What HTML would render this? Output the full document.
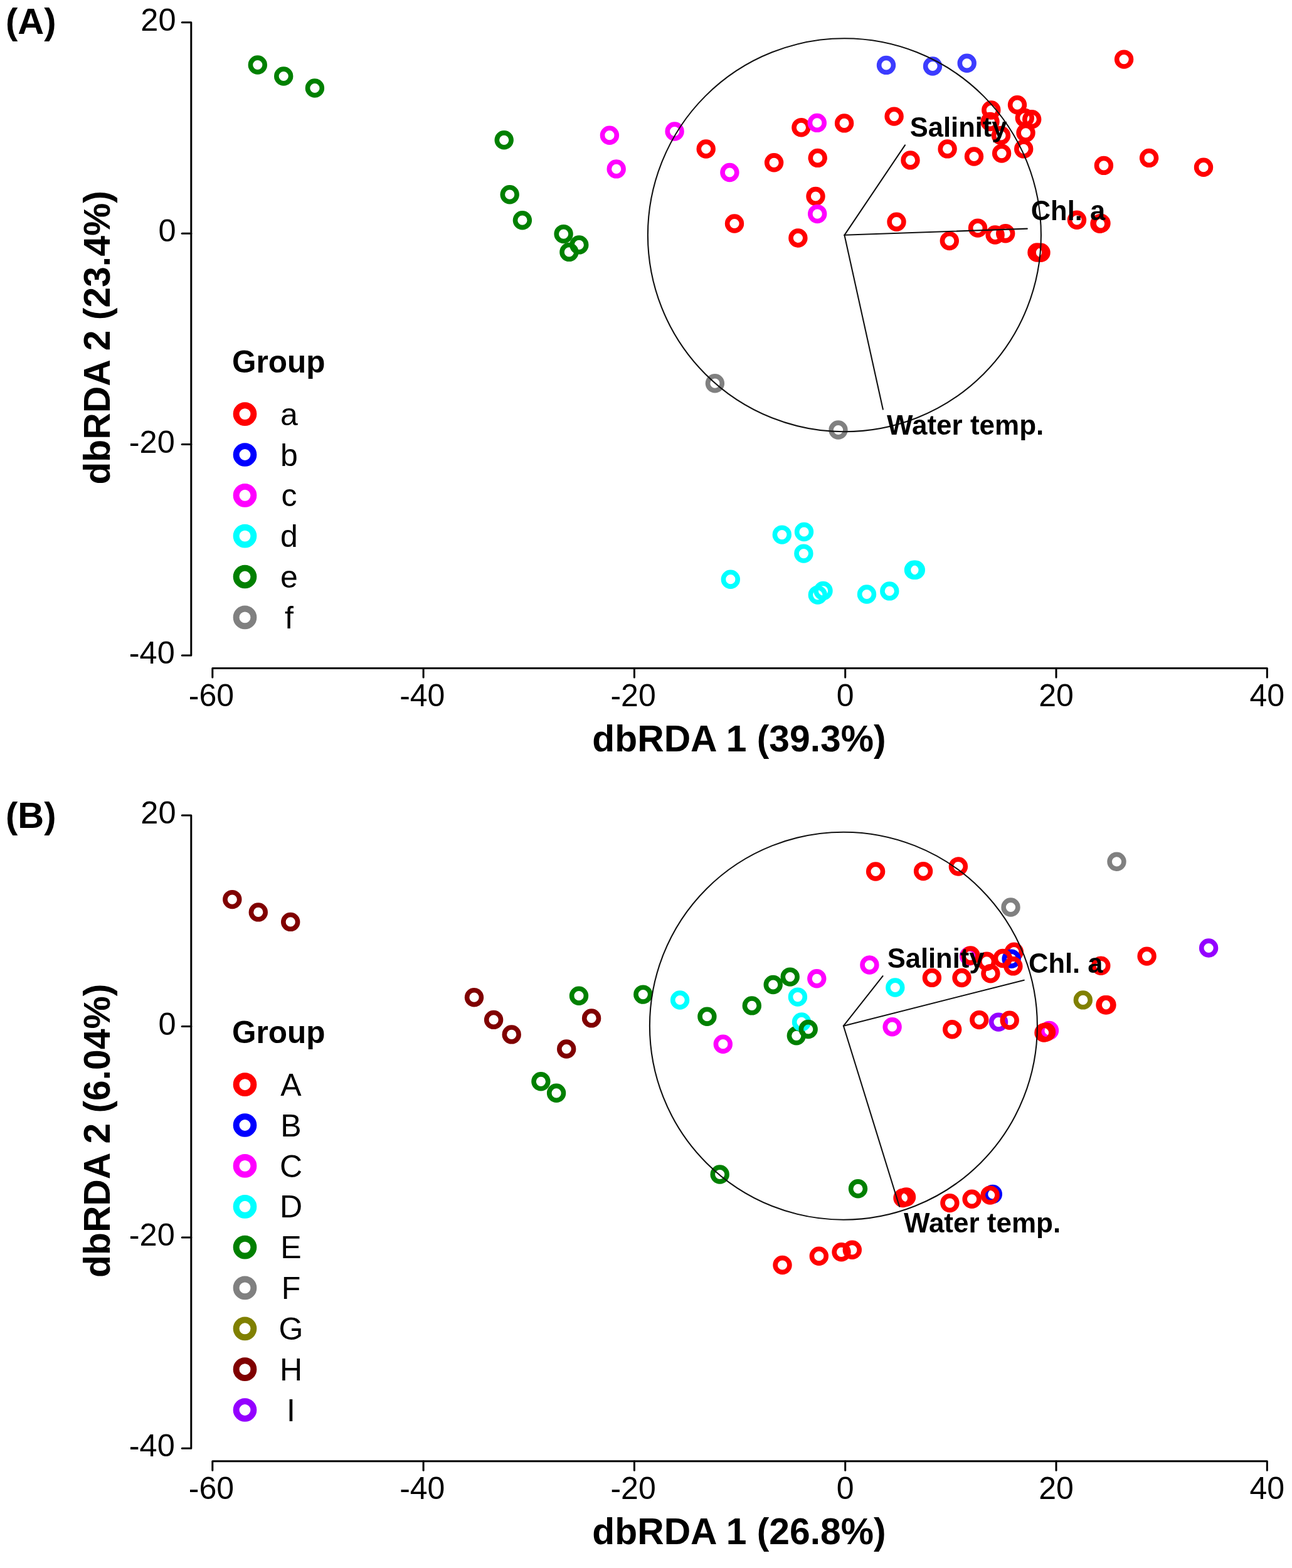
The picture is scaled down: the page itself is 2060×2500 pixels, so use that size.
<!DOCTYPE html>
<html><head><meta charset="utf-8"><title>dbRDA plots</title>
<style>html,body{margin:0;padding:0;background:#fff;} svg{display:block;}</style></head>
<body>
<svg width="2060" height="2500" viewBox="0 0 2060 2500">
<rect width="2060" height="2500" fill="#fff"/>
<circle cx="1125.7" cy="237.5" r="11.4" stroke="#ff0000" stroke-width="7.6" fill="none"/>
<circle cx="1277.4" cy="203.3" r="11.4" stroke="#ff0000" stroke-width="7.6" fill="none"/>
<circle cx="1346.1" cy="196.4" r="11.4" stroke="#ff0000" stroke-width="7.6" fill="none"/>
<circle cx="1425.6" cy="185.6" r="11.4" stroke="#ff0000" stroke-width="7.6" fill="none"/>
<circle cx="1234.1" cy="259.3" r="11.4" stroke="#ff0000" stroke-width="7.6" fill="none"/>
<circle cx="1303.7" cy="251.9" r="11.4" stroke="#ff0000" stroke-width="7.6" fill="none"/>
<circle cx="1451.5" cy="255.4" r="11.4" stroke="#ff0000" stroke-width="7.6" fill="none"/>
<circle cx="1792.1" cy="94.6" r="11.4" stroke="#ff0000" stroke-width="7.6" fill="none"/>
<circle cx="1622.0" cy="167.2" r="11.4" stroke="#ff0000" stroke-width="7.6" fill="none"/>
<circle cx="1580.3" cy="175.5" r="11.4" stroke="#ff0000" stroke-width="7.6" fill="none"/>
<circle cx="1578.5" cy="194.0" r="11.4" stroke="#ff0000" stroke-width="7.6" fill="none"/>
<circle cx="1633.8" cy="187.9" r="11.4" stroke="#ff0000" stroke-width="7.6" fill="none"/>
<circle cx="1645.2" cy="190.2" r="11.4" stroke="#ff0000" stroke-width="7.6" fill="none"/>
<circle cx="1635.5" cy="211.8" r="11.4" stroke="#ff0000" stroke-width="7.6" fill="none"/>
<circle cx="1596.0" cy="216.0" r="11.4" stroke="#ff0000" stroke-width="7.6" fill="none"/>
<circle cx="1632.2" cy="237.4" r="11.4" stroke="#ff0000" stroke-width="7.6" fill="none"/>
<circle cx="1597.1" cy="244.6" r="11.4" stroke="#ff0000" stroke-width="7.6" fill="none"/>
<circle cx="1510.6" cy="237.4" r="11.4" stroke="#ff0000" stroke-width="7.6" fill="none"/>
<circle cx="1553.0" cy="249.5" r="11.4" stroke="#ff0000" stroke-width="7.6" fill="none"/>
<circle cx="1759.9" cy="263.9" r="11.4" stroke="#ff0000" stroke-width="7.6" fill="none"/>
<circle cx="1832.1" cy="251.9" r="11.4" stroke="#ff0000" stroke-width="7.6" fill="none"/>
<circle cx="1919.0" cy="266.7" r="11.4" stroke="#ff0000" stroke-width="7.6" fill="none"/>
<circle cx="1300.5" cy="313.0" r="11.4" stroke="#ff0000" stroke-width="7.6" fill="none"/>
<circle cx="1171.0" cy="356.5" r="11.4" stroke="#ff0000" stroke-width="7.6" fill="none"/>
<circle cx="1272.4" cy="379.5" r="11.4" stroke="#ff0000" stroke-width="7.6" fill="none"/>
<circle cx="1429.5" cy="353.7" r="11.4" stroke="#ff0000" stroke-width="7.6" fill="none"/>
<circle cx="1513.8" cy="384.1" r="11.4" stroke="#ff0000" stroke-width="7.6" fill="none"/>
<circle cx="1559.0" cy="363.6" r="11.4" stroke="#ff0000" stroke-width="7.6" fill="none"/>
<circle cx="1586.6" cy="374.5" r="11.4" stroke="#ff0000" stroke-width="7.6" fill="none"/>
<circle cx="1603.2" cy="372.2" r="11.4" stroke="#ff0000" stroke-width="7.6" fill="none"/>
<circle cx="1653.5" cy="402.5" r="11.4" stroke="#ff0000" stroke-width="7.6" fill="none"/>
<circle cx="1659.5" cy="402.7" r="11.4" stroke="#ff0000" stroke-width="7.6" fill="none"/>
<circle cx="1717.0" cy="350.8" r="11.4" stroke="#ff0000" stroke-width="7.6" fill="none"/>
<circle cx="1753.5" cy="356.8" r="11.4" stroke="#ff0000" stroke-width="7.6" fill="none"/>
<circle cx="1755.5" cy="356.0" r="11.4" stroke="#ff0000" stroke-width="7.6" fill="none"/>
<circle cx="1413.0" cy="103.9" r="11.4" stroke="#3c3cff" stroke-width="7.6" fill="none"/>
<circle cx="1487.0" cy="105.5" r="11.4" stroke="#3c3cff" stroke-width="7.6" fill="none"/>
<circle cx="1541.7" cy="100.8" r="11.4" stroke="#3c3cff" stroke-width="7.6" fill="none"/>
<circle cx="971.9" cy="215.7" r="11.4" stroke="#ff00ff" stroke-width="7.6" fill="none"/>
<circle cx="982.7" cy="269.4" r="11.4" stroke="#ff00ff" stroke-width="7.6" fill="none"/>
<circle cx="1075.6" cy="209.5" r="11.4" stroke="#ff00ff" stroke-width="7.6" fill="none"/>
<circle cx="1163.4" cy="275.0" r="11.4" stroke="#ff00ff" stroke-width="7.6" fill="none"/>
<circle cx="1302.8" cy="195.9" r="11.4" stroke="#ff00ff" stroke-width="7.6" fill="none"/>
<circle cx="1303.2" cy="341.1" r="11.4" stroke="#ff00ff" stroke-width="7.6" fill="none"/>
<circle cx="1246.8" cy="852.6" r="11.4" stroke="#00ffff" stroke-width="7.6" fill="none"/>
<circle cx="1282.0" cy="848.0" r="11.4" stroke="#00ffff" stroke-width="7.6" fill="none"/>
<circle cx="1281.4" cy="882.6" r="11.4" stroke="#00ffff" stroke-width="7.6" fill="none"/>
<circle cx="1164.8" cy="923.7" r="11.4" stroke="#00ffff" stroke-width="7.6" fill="none"/>
<circle cx="1303.8" cy="948.6" r="11.4" stroke="#00ffff" stroke-width="7.6" fill="none"/>
<circle cx="1312.5" cy="941.9" r="11.4" stroke="#00ffff" stroke-width="7.6" fill="none"/>
<circle cx="1382.0" cy="947.5" r="11.4" stroke="#00ffff" stroke-width="7.6" fill="none"/>
<circle cx="1418.3" cy="942.4" r="11.4" stroke="#00ffff" stroke-width="7.6" fill="none"/>
<circle cx="1457.0" cy="908.8" r="11.4" stroke="#00ffff" stroke-width="7.6" fill="none"/>
<circle cx="1459.8" cy="908.8" r="11.4" stroke="#00ffff" stroke-width="7.6" fill="none"/>
<circle cx="410.8" cy="103.5" r="11.4" stroke="#008000" stroke-width="7.6" fill="none"/>
<circle cx="452.2" cy="121.5" r="11.4" stroke="#008000" stroke-width="7.6" fill="none"/>
<circle cx="501.9" cy="140.5" r="11.4" stroke="#008000" stroke-width="7.6" fill="none"/>
<circle cx="803.7" cy="223.3" r="11.4" stroke="#008000" stroke-width="7.6" fill="none"/>
<circle cx="812.7" cy="310.2" r="11.4" stroke="#008000" stroke-width="7.6" fill="none"/>
<circle cx="832.9" cy="351.2" r="11.4" stroke="#008000" stroke-width="7.6" fill="none"/>
<circle cx="898.6" cy="373.1" r="11.4" stroke="#008000" stroke-width="7.6" fill="none"/>
<circle cx="923.3" cy="390.4" r="11.4" stroke="#008000" stroke-width="7.6" fill="none"/>
<circle cx="907.4" cy="401.9" r="11.4" stroke="#008000" stroke-width="7.6" fill="none"/>
<circle cx="1139.9" cy="611.2" r="11.4" stroke="#808080" stroke-width="7.6" fill="none"/>
<circle cx="1336.5" cy="685.5" r="11.4" stroke="#808080" stroke-width="7.6" fill="none"/>
<circle cx="1346.4" cy="374.8" r="313.5" fill="none" stroke="#111" stroke-width="2.1"/>
<line x1="1346.4" y1="374.8" x2="1443.0" y2="231.3" stroke="#111" stroke-width="2.1" stroke-linecap="round"/>
<line x1="1346.4" y1="374.8" x2="1637.8" y2="364.6" stroke="#111" stroke-width="2.1" stroke-linecap="round"/>
<line x1="1346.4" y1="374.8" x2="1407.8" y2="652.6" stroke="#111" stroke-width="2.1" stroke-linecap="round"/>
<text x="1450.8" y="217.6" font-size="43.5" font-weight="bold" font-family="'Liberation Sans', Arial, Helvetica, sans-serif">Salinity</text>
<text x="1643.7" y="351.3" font-size="43.5" font-weight="bold" font-family="'Liberation Sans', Arial, Helvetica, sans-serif">Chl. a</text>
<text x="1414.1" y="693.1" font-size="44" font-weight="bold" font-family="'Liberation Sans', Arial, Helvetica, sans-serif">Water temp.</text>
<path d="M290.2,35.7 H304.8 V1044.9 H290.2" fill="none" stroke="#000" stroke-width="3" stroke-linejoin="round" stroke-linecap="round"/>
<line x1="290.2" y1="372.2" x2="304.8" y2="372.2" stroke="#000" stroke-width="3" stroke-linecap="round"/>
<line x1="290.2" y1="708.5" x2="304.8" y2="708.5" stroke="#000" stroke-width="3" stroke-linecap="round"/>
<text x="280.5" y="48.7" text-anchor="end" font-size="50.5" font-family="'Liberation Sans', Arial, Helvetica, sans-serif">20</text>
<text x="280.5" y="385.2" text-anchor="end" font-size="50.5" font-family="'Liberation Sans', Arial, Helvetica, sans-serif">0</text>
<text x="278.8" y="721.5" text-anchor="end" font-size="50.5" font-family="'Liberation Sans', Arial, Helvetica, sans-serif">-20</text>
<text x="278.8" y="1057.9" text-anchor="end" font-size="50.5" font-family="'Liberation Sans', Arial, Helvetica, sans-serif">-40</text>
<path d="M338.8,1079.9 V1065.4 H2020.3 V1079.9" fill="none" stroke="#000" stroke-width="3" stroke-linejoin="round" stroke-linecap="round"/>
<line x1="675.1" y1="1065.4" x2="675.1" y2="1079.9" stroke="#000" stroke-width="3" stroke-linecap="round"/>
<line x1="1011.4" y1="1065.4" x2="1011.4" y2="1079.9" stroke="#000" stroke-width="3" stroke-linecap="round"/>
<line x1="1347.7" y1="1065.4" x2="1347.7" y2="1079.9" stroke="#000" stroke-width="3" stroke-linecap="round"/>
<line x1="1684.0" y1="1065.4" x2="1684.0" y2="1079.9" stroke="#000" stroke-width="3" stroke-linecap="round"/>
<text x="337.0" y="1125.9" text-anchor="middle" font-size="50" font-family="'Liberation Sans', Arial, Helvetica, sans-serif">-60</text>
<text x="673.3" y="1125.9" text-anchor="middle" font-size="50" font-family="'Liberation Sans', Arial, Helvetica, sans-serif">-40</text>
<text x="1009.6" y="1125.9" text-anchor="middle" font-size="50" font-family="'Liberation Sans', Arial, Helvetica, sans-serif">-20</text>
<text x="1347.7" y="1125.9" text-anchor="middle" font-size="50" font-family="'Liberation Sans', Arial, Helvetica, sans-serif">0</text>
<text x="1684.0" y="1125.9" text-anchor="middle" font-size="50" font-family="'Liberation Sans', Arial, Helvetica, sans-serif">20</text>
<text x="2020.3" y="1125.9" text-anchor="middle" font-size="50" font-family="'Liberation Sans', Arial, Helvetica, sans-serif">40</text>
<text x="1178.5" y="1197.9" text-anchor="middle" font-size="58.8" font-weight="bold" font-family="'Liberation Sans', Arial, Helvetica, sans-serif">dbRDA 1 (39.3%)</text>
<text transform="translate(175,538.4) rotate(-90)" x="0" y="0" text-anchor="middle" font-size="58.8" font-weight="bold" font-family="'Liberation Sans', Arial, Helvetica, sans-serif">dbRDA 2 (23.4%)</text>
<text x="9" y="53.8" font-size="58" font-weight="bold" font-family="'Liberation Sans', Arial, Helvetica, sans-serif">(A)</text>
<text x="370" y="593.6" font-size="49.5" font-weight="bold" font-family="'Liberation Sans', Arial, Helvetica, sans-serif">Group</text>
<circle cx="390.5" cy="660.1" r="13.9" stroke="#ff0000" stroke-width="9.9" fill="none"/>
<text x="461" y="677.7" text-anchor="middle" font-size="50" font-family="'Liberation Sans', Arial, Helvetica, sans-serif">a</text>
<circle cx="390.5" cy="725.0" r="13.9" stroke="#0000ff" stroke-width="9.9" fill="none"/>
<text x="461" y="742.6" text-anchor="middle" font-size="50" font-family="'Liberation Sans', Arial, Helvetica, sans-serif">b</text>
<circle cx="390.5" cy="789.8" r="13.9" stroke="#ff00ff" stroke-width="9.9" fill="none"/>
<text x="461" y="807.4" text-anchor="middle" font-size="50" font-family="'Liberation Sans', Arial, Helvetica, sans-serif">c</text>
<circle cx="390.5" cy="854.6" r="13.9" stroke="#00ffff" stroke-width="9.9" fill="none"/>
<text x="461" y="872.2" text-anchor="middle" font-size="50" font-family="'Liberation Sans', Arial, Helvetica, sans-serif">d</text>
<circle cx="390.5" cy="919.5" r="13.9" stroke="#008000" stroke-width="9.9" fill="none"/>
<text x="461" y="937.1" text-anchor="middle" font-size="50" font-family="'Liberation Sans', Arial, Helvetica, sans-serif">e</text>
<circle cx="390.5" cy="984.4" r="13.9" stroke="#808080" stroke-width="9.9" fill="none"/>
<text x="461" y="1002.0" text-anchor="middle" font-size="50" font-family="'Liberation Sans', Arial, Helvetica, sans-serif">f</text>
<circle cx="1545.0" cy="1524.5" r="11.4" stroke="#ff00ff" stroke-width="7.6" fill="none"/>
<circle cx="1673.0" cy="1643.0" r="11.4" stroke="#ff00ff" stroke-width="7.6" fill="none"/>
<circle cx="1302.3" cy="1560.3" r="11.4" stroke="#ff00ff" stroke-width="7.6" fill="none"/>
<circle cx="1152.8" cy="1664.7" r="11.4" stroke="#ff00ff" stroke-width="7.6" fill="none"/>
<circle cx="1386.4" cy="1538.5" r="11.4" stroke="#ff00ff" stroke-width="7.6" fill="none"/>
<circle cx="1422.6" cy="1637.2" r="11.4" stroke="#ff00ff" stroke-width="7.6" fill="none"/>
<circle cx="1592.0" cy="1629.6" r="11.4" stroke="#9400ff" stroke-width="7.6" fill="none"/>
<circle cx="1927.1" cy="1511.5" r="11.4" stroke="#9400ff" stroke-width="7.6" fill="none"/>
<circle cx="1582.8" cy="1904.0" r="11.4" stroke="#0000ff" stroke-width="7.6" fill="none"/>
<circle cx="1616.8" cy="1517.7" r="11.4" stroke="#ff0000" stroke-width="7.6" fill="none"/>
<circle cx="1612.6" cy="1528.7" r="11.4" stroke="#0000ff" stroke-width="7.6" fill="none"/>
<circle cx="1269.8" cy="1651.3" r="11.4" stroke="#008000" stroke-width="7.6" fill="none"/>
<circle cx="1084.1" cy="1594.5" r="11.4" stroke="#00ffff" stroke-width="7.6" fill="none"/>
<circle cx="1271.9" cy="1589.6" r="11.4" stroke="#00ffff" stroke-width="7.6" fill="none"/>
<circle cx="1278.0" cy="1629.4" r="11.4" stroke="#00ffff" stroke-width="7.6" fill="none"/>
<circle cx="1427.3" cy="1574.5" r="11.4" stroke="#00ffff" stroke-width="7.6" fill="none"/>
<circle cx="923.0" cy="1587.7" r="11.4" stroke="#008000" stroke-width="7.6" fill="none"/>
<circle cx="1025.3" cy="1585.6" r="11.4" stroke="#008000" stroke-width="7.6" fill="none"/>
<circle cx="862.4" cy="1724.3" r="11.4" stroke="#008000" stroke-width="7.6" fill="none"/>
<circle cx="887.1" cy="1742.8" r="11.4" stroke="#008000" stroke-width="7.6" fill="none"/>
<circle cx="1127.4" cy="1620.7" r="11.4" stroke="#008000" stroke-width="7.6" fill="none"/>
<circle cx="1198.8" cy="1603.4" r="11.4" stroke="#008000" stroke-width="7.6" fill="none"/>
<circle cx="1232.7" cy="1570.0" r="11.4" stroke="#008000" stroke-width="7.6" fill="none"/>
<circle cx="1259.7" cy="1557.6" r="11.4" stroke="#008000" stroke-width="7.6" fill="none"/>
<circle cx="1288.7" cy="1641.0" r="11.4" stroke="#008000" stroke-width="7.6" fill="none"/>
<circle cx="1147.7" cy="1872.5" r="11.4" stroke="#008000" stroke-width="7.6" fill="none"/>
<circle cx="1368.0" cy="1895.3" r="11.4" stroke="#008000" stroke-width="7.6" fill="none"/>
<circle cx="370.3" cy="1434.1" r="11.4" stroke="#800000" stroke-width="7.6" fill="none"/>
<circle cx="411.8" cy="1454.4" r="11.4" stroke="#800000" stroke-width="7.6" fill="none"/>
<circle cx="463.2" cy="1469.9" r="11.4" stroke="#800000" stroke-width="7.6" fill="none"/>
<circle cx="756.0" cy="1590.2" r="11.4" stroke="#800000" stroke-width="7.6" fill="none"/>
<circle cx="787.1" cy="1625.9" r="11.4" stroke="#800000" stroke-width="7.6" fill="none"/>
<circle cx="815.7" cy="1649.4" r="11.4" stroke="#800000" stroke-width="7.6" fill="none"/>
<circle cx="943.1" cy="1623.4" r="11.4" stroke="#800000" stroke-width="7.6" fill="none"/>
<circle cx="903.2" cy="1672.5" r="11.4" stroke="#800000" stroke-width="7.6" fill="none"/>
<circle cx="1611.5" cy="1446.5" r="11.4" stroke="#808080" stroke-width="7.6" fill="none"/>
<circle cx="1780.5" cy="1373.8" r="11.4" stroke="#808080" stroke-width="7.6" fill="none"/>
<circle cx="1726.8" cy="1594.4" r="11.4" stroke="#808000" stroke-width="7.6" fill="none"/>
<circle cx="1396.1" cy="1389.5" r="11.4" stroke="#ff0000" stroke-width="7.6" fill="none"/>
<circle cx="1472.1" cy="1389.1" r="11.4" stroke="#ff0000" stroke-width="7.6" fill="none"/>
<circle cx="1527.9" cy="1381.5" r="11.4" stroke="#ff0000" stroke-width="7.6" fill="none"/>
<circle cx="1485.9" cy="1558.9" r="11.4" stroke="#ff0000" stroke-width="7.6" fill="none"/>
<circle cx="1533.5" cy="1559.0" r="11.4" stroke="#ff0000" stroke-width="7.6" fill="none"/>
<circle cx="1547.5" cy="1523.5" r="11.4" stroke="#ff0000" stroke-width="7.6" fill="none"/>
<circle cx="1573.2" cy="1532.8" r="11.4" stroke="#ff0000" stroke-width="7.6" fill="none"/>
<circle cx="1579.4" cy="1552.2" r="11.4" stroke="#ff0000" stroke-width="7.6" fill="none"/>
<circle cx="1598.8" cy="1528.0" r="11.4" stroke="#ff0000" stroke-width="7.6" fill="none"/>
<circle cx="1615.4" cy="1540.4" r="11.4" stroke="#ff0000" stroke-width="7.6" fill="none"/>
<circle cx="1755.3" cy="1539.7" r="11.4" stroke="#ff0000" stroke-width="7.6" fill="none"/>
<circle cx="1828.6" cy="1524.6" r="11.4" stroke="#ff0000" stroke-width="7.6" fill="none"/>
<circle cx="1518.2" cy="1641.3" r="11.4" stroke="#ff0000" stroke-width="7.6" fill="none"/>
<circle cx="1561.3" cy="1626.1" r="11.4" stroke="#ff0000" stroke-width="7.6" fill="none"/>
<circle cx="1609.7" cy="1626.8" r="11.4" stroke="#ff0000" stroke-width="7.6" fill="none"/>
<circle cx="1664.5" cy="1646.5" r="11.4" stroke="#ff0000" stroke-width="7.6" fill="none"/>
<circle cx="1668.0" cy="1645.5" r="11.4" stroke="#ff0000" stroke-width="7.6" fill="none"/>
<circle cx="1762.5" cy="1602.2" r="11.4" stroke="#ff0000" stroke-width="7.6" fill="none"/>
<circle cx="1764.5" cy="1602.2" r="11.4" stroke="#ff0000" stroke-width="7.6" fill="none"/>
<circle cx="1247.5" cy="2017.0" r="11.4" stroke="#ff0000" stroke-width="7.6" fill="none"/>
<circle cx="1305.8" cy="2002.7" r="11.4" stroke="#ff0000" stroke-width="7.6" fill="none"/>
<circle cx="1341.5" cy="1996.3" r="11.4" stroke="#ff0000" stroke-width="7.6" fill="none"/>
<circle cx="1358.8" cy="1992.8" r="11.4" stroke="#ff0000" stroke-width="7.6" fill="none"/>
<circle cx="1439.5" cy="1910.0" r="11.4" stroke="#ff0000" stroke-width="7.6" fill="none"/>
<circle cx="1445.0" cy="1908.5" r="11.4" stroke="#ff0000" stroke-width="7.6" fill="none"/>
<circle cx="1514.4" cy="1918.1" r="11.4" stroke="#ff0000" stroke-width="7.6" fill="none"/>
<circle cx="1549.6" cy="1911.8" r="11.4" stroke="#ff0000" stroke-width="7.6" fill="none"/>
<circle cx="1578.6" cy="1905.6" r="11.4" stroke="#ff0000" stroke-width="7.6" fill="none"/>
<circle cx="1344.9" cy="1635.7" r="309.0" fill="none" stroke="#111" stroke-width="2.1"/>
<line x1="1344.9" y1="1635.7" x2="1407.6" y2="1556.2" stroke="#111" stroke-width="2.1" stroke-linecap="round"/>
<line x1="1344.9" y1="1635.7" x2="1632.8" y2="1562.7" stroke="#111" stroke-width="2.1" stroke-linecap="round"/>
<line x1="1344.9" y1="1635.7" x2="1434.1" y2="1923.7" stroke="#111" stroke-width="2.1" stroke-linecap="round"/>
<text x="1414.7" y="1543.1" font-size="43.5" font-weight="bold" font-family="'Liberation Sans', Arial, Helvetica, sans-serif">Salinity</text>
<text x="1640" y="1550.5" font-size="43.5" font-weight="bold" font-family="'Liberation Sans', Arial, Helvetica, sans-serif">Chl. a</text>
<text x="1441" y="1964.5" font-size="44" font-weight="bold" font-family="'Liberation Sans', Arial, Helvetica, sans-serif">Water temp.</text>
<path d="M290.2,1300.1 H304.8 V2309.3 H290.2" fill="none" stroke="#000" stroke-width="3" stroke-linejoin="round" stroke-linecap="round"/>
<line x1="290.2" y1="1636.6" x2="304.8" y2="1636.6" stroke="#000" stroke-width="3" stroke-linecap="round"/>
<line x1="290.2" y1="1972.9" x2="304.8" y2="1972.9" stroke="#000" stroke-width="3" stroke-linecap="round"/>
<text x="280.5" y="1313.1" text-anchor="end" font-size="50.5" font-family="'Liberation Sans', Arial, Helvetica, sans-serif">20</text>
<text x="280.5" y="1649.6" text-anchor="end" font-size="50.5" font-family="'Liberation Sans', Arial, Helvetica, sans-serif">0</text>
<text x="278.8" y="1985.9" text-anchor="end" font-size="50.5" font-family="'Liberation Sans', Arial, Helvetica, sans-serif">-20</text>
<text x="278.8" y="2322.3" text-anchor="end" font-size="50.5" font-family="'Liberation Sans', Arial, Helvetica, sans-serif">-40</text>
<path d="M338.8,2344.3 V2329.8 H2020.3 V2344.3" fill="none" stroke="#000" stroke-width="3" stroke-linejoin="round" stroke-linecap="round"/>
<line x1="675.1" y1="2329.8" x2="675.1" y2="2344.3" stroke="#000" stroke-width="3" stroke-linecap="round"/>
<line x1="1011.4" y1="2329.8" x2="1011.4" y2="2344.3" stroke="#000" stroke-width="3" stroke-linecap="round"/>
<line x1="1347.7" y1="2329.8" x2="1347.7" y2="2344.3" stroke="#000" stroke-width="3" stroke-linecap="round"/>
<line x1="1684.0" y1="2329.8" x2="1684.0" y2="2344.3" stroke="#000" stroke-width="3" stroke-linecap="round"/>
<text x="337.0" y="2390.3" text-anchor="middle" font-size="50" font-family="'Liberation Sans', Arial, Helvetica, sans-serif">-60</text>
<text x="673.3" y="2390.3" text-anchor="middle" font-size="50" font-family="'Liberation Sans', Arial, Helvetica, sans-serif">-40</text>
<text x="1009.6" y="2390.3" text-anchor="middle" font-size="50" font-family="'Liberation Sans', Arial, Helvetica, sans-serif">-20</text>
<text x="1347.7" y="2390.3" text-anchor="middle" font-size="50" font-family="'Liberation Sans', Arial, Helvetica, sans-serif">0</text>
<text x="1684.0" y="2390.3" text-anchor="middle" font-size="50" font-family="'Liberation Sans', Arial, Helvetica, sans-serif">20</text>
<text x="2020.3" y="2390.3" text-anchor="middle" font-size="50" font-family="'Liberation Sans', Arial, Helvetica, sans-serif">40</text>
<text x="1178.5" y="2462.3" text-anchor="middle" font-size="58.8" font-weight="bold" font-family="'Liberation Sans', Arial, Helvetica, sans-serif">dbRDA 1 (26.8%)</text>
<text transform="translate(175,1802.8) rotate(-90)" x="0" y="0" text-anchor="middle" font-size="58.8" font-weight="bold" font-family="'Liberation Sans', Arial, Helvetica, sans-serif">dbRDA 2 (6.04%)</text>
<text x="9" y="1319.7" font-size="58" font-weight="bold" font-family="'Liberation Sans', Arial, Helvetica, sans-serif">(B)</text>
<text x="370" y="1663.2" font-size="49.5" font-weight="bold" font-family="'Liberation Sans', Arial, Helvetica, sans-serif">Group</text>
<circle cx="390.5" cy="1729.2" r="13.9" stroke="#ff0000" stroke-width="9.9" fill="none"/>
<text x="464" y="1746.8" text-anchor="middle" font-size="50" font-family="'Liberation Sans', Arial, Helvetica, sans-serif">A</text>
<circle cx="390.5" cy="1794.0" r="13.9" stroke="#0000ff" stroke-width="9.9" fill="none"/>
<text x="464" y="1811.6" text-anchor="middle" font-size="50" font-family="'Liberation Sans', Arial, Helvetica, sans-serif">B</text>
<circle cx="390.5" cy="1858.9" r="13.9" stroke="#ff00ff" stroke-width="9.9" fill="none"/>
<text x="464" y="1876.5" text-anchor="middle" font-size="50" font-family="'Liberation Sans', Arial, Helvetica, sans-serif">C</text>
<circle cx="390.5" cy="1923.8" r="13.9" stroke="#00ffff" stroke-width="9.9" fill="none"/>
<text x="464" y="1941.3" text-anchor="middle" font-size="50" font-family="'Liberation Sans', Arial, Helvetica, sans-serif">D</text>
<circle cx="390.5" cy="1988.6" r="13.9" stroke="#008000" stroke-width="9.9" fill="none"/>
<text x="464" y="2006.2" text-anchor="middle" font-size="50" font-family="'Liberation Sans', Arial, Helvetica, sans-serif">E</text>
<circle cx="390.5" cy="2053.4" r="13.9" stroke="#808080" stroke-width="9.9" fill="none"/>
<text x="464" y="2071.0" text-anchor="middle" font-size="50" font-family="'Liberation Sans', Arial, Helvetica, sans-serif">F</text>
<circle cx="390.5" cy="2118.3" r="13.9" stroke="#808000" stroke-width="9.9" fill="none"/>
<text x="464" y="2135.9" text-anchor="middle" font-size="50" font-family="'Liberation Sans', Arial, Helvetica, sans-serif">G</text>
<circle cx="390.5" cy="2183.2" r="13.9" stroke="#800000" stroke-width="9.9" fill="none"/>
<text x="464" y="2200.8" text-anchor="middle" font-size="50" font-family="'Liberation Sans', Arial, Helvetica, sans-serif">H</text>
<circle cx="390.5" cy="2248.0" r="13.9" stroke="#9400ff" stroke-width="9.9" fill="none"/>
<text x="464" y="2265.6" text-anchor="middle" font-size="50" font-family="'Liberation Sans', Arial, Helvetica, sans-serif">I</text>
</svg>
</body></html>
